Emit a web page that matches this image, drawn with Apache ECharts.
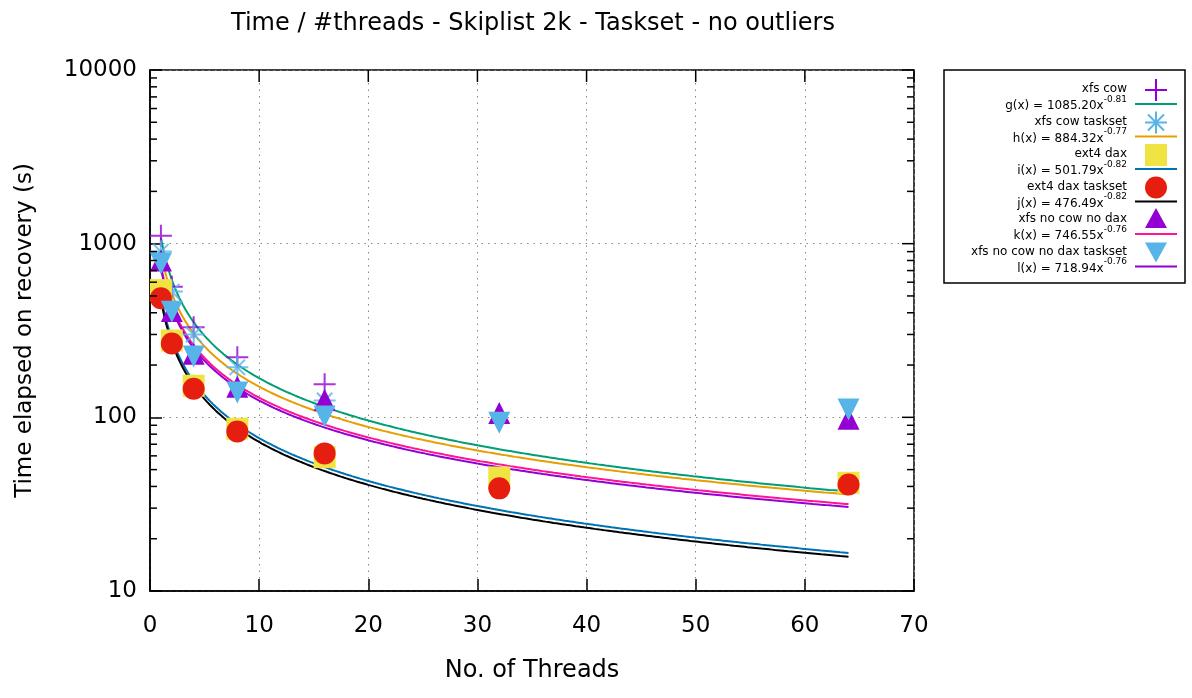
<!DOCTYPE html>
<html>
<head>
<meta charset="utf-8">
<script src="https://cdn.jsdelivr.net/npm/echarts@6/dist/echarts.min.js"></script>
<style>html,body{margin:0;padding:0;background:#fff;}#c{width:1192px;height:698px;}</style>
</head>
<body>
<div id="c"></div>
<script>
// ---- data ----
var threads = [1, 2, 4, 8, 16, 32, 64];
var xfsCow = [1110, 565, 330, 222, 155];
var xfsCowTaskset = [900, 530, 300, 194, 125];
var ext4Dax = [540, 277, 152, 86, 59, 45, 42];
var ext4DaxTaskset = [485, 266, 146, 83, 62, 39, 41];
var xfsNoCowNoDax = [800, 410, 232, 150, 126, 106, 98];
var xfsNoCowNoDaxTaskset = [770, 405, 224, 139, 101, 93, 111];
var seriesNames = ['xfs cow', 'xfs cow taskset', 'ext4 dax', 'ext4 dax taskset', 'xfs no cow no dax', 'xfs no cow no dax taskset'];
var fitLetters = ['g', 'h', 'i', 'j', 'k', 'l'];
var fitCoef = [1085.20, 884.32, 501.79, 476.49, 746.55, 718.94];
var fitExp = [-0.81, -0.77, -0.82, -0.82, -0.76, -0.76];
var fitRange = [1, 64];
var xTicks = [0, 10, 20, 30, 40, 50, 60, 70];
var yTicks = [10, 100, 1000, 10000];
var yMinor = [20,30,40,50,60,70,80,90,200,300,400,500,600,700,800,900,2000,3000,4000,5000,6000,7000,8000,9000];

// ---- styles ----
var FONT = 'DejaVu Sans';
var pointColors = ['#9400d3', '#56b4e9', '#f0e442', '#e51e10', '#9400d3', '#56b4e9'];
var lineColors = ['#009e73', '#e69f00', '#0072b2', '#000000', '#ff1493', '#9400d3'];
var PLUS = 'path://M10,0L10,20M0,10L20,10';
var STAR = 'path://M10,0L10,20M0,10L20,10M3,3L17,17M3,17L17,3';
var pointData = [xfsCow, xfsCowTaskset, ext4Dax, ext4DaxTaskset, xfsNoCowNoDax, xfsNoCowNoDaxTaskset];
var symbols = [PLUS, STAR, 'rect', 'circle', 'triangle', 'triangle'];
var symbolRot = [0, 0, 0, 0, 0, 180];
var symbolSizes = [22, 22, 22, 22, 22, 22];

function fitCurve(i) {
  var pts = [];
  for (var x = fitRange[0]; x <= fitRange[1] + 1e-9; x += 0.25) {
    pts.push([x, fitCoef[i] * Math.pow(x, fitExp[i])]);
  }
  return pts;
}

var series = [];
for (var i = 0; i < 6; i++) {
  var isStroke = (i < 2);
  series.push({
    name: seriesNames[i],
    type: 'scatter',
    symbol: symbols[i],
    symbolSize: symbolSizes[i],
    symbolRotate: symbolRot[i],
    data: pointData[i].map(function (v, k) { return [threads[k], v]; }),
    itemStyle: isStroke ? { color: 'rgba(0,0,0,0)', borderColor: pointColors[i], borderWidth: 2 } : { color: pointColors[i], opacity: 1 },
    emphasis: { disabled: true },
    silent: true,
    z: 2
  });
  series.push({
    name: fitLetters[i] + '(x)',
    type: 'line',
    showSymbol: false,
    symbol: 'none',
    data: fitCurve(i),
    lineStyle: { color: lineColors[i], width: 2 },
    emphasis: { disabled: true },
    silent: true,
    z: 2
  });
}

// minor / mirrored ticks drawn through the axes' scales
series.push({
  type: 'custom',
  silent: true,
  z: 3,
  data: yMinor.map(function (v) { return [0, v, 7]; })
    .concat(yTicks.map(function (v) { return [0, v, 12]; })),
  renderItem: function (params, api) {
    var v = api.value(1), len = api.value(2);
    var l = api.coord([0, v]);
    var r = api.coord([70, v]);
    var st = { stroke: '#000', lineWidth: 1.5 };
    var children = [
      { type: 'line', shape: { x1: r[0], y1: r[1], x2: r[0] - len, y2: r[1] }, style: st }
    ];
    if (len < 10) children.push({ type: 'line', shape: { x1: l[0], y1: l[1], x2: l[0] + len, y2: l[1] }, style: st });
    return { type: 'group', children: children };
  },
  clip: false
});
series.push({
  type: 'custom',
  silent: true,
  z: 3,
  data: xTicks.map(function (v) { return [v, 10000]; }),
  renderItem: function (params, api) {
    var p = api.coord([api.value(0), api.value(1)]);
    return { type: 'line', shape: { x1: p[0], y1: p[1], x2: p[0], y2: p[1] + 12 }, style: { stroke: '#000', lineWidth: 1.5 } };
  },
  clip: false
});

// ---- legend drawn as graphic ----
var legendX = 1127, symX = 1156, lineX1 = 1135, lineX2 = 1177;
var graphics = [{
  type: 'rect', shape: { x: 944, y: 70, width: 241, height: 213 },
  style: { fill: '#fff', stroke: '#000', lineWidth: 1.5 }, z: 10
}];
var legendTop = 89, pairGap = 32.5, subGap = 14.5;
for (var j = 0; j < 6; j++) {
  var y1 = legendTop + j * pairGap, y2 = y1 + subGap;
  graphics.push({
    type: 'text', z: 11,
    style: { text: seriesNames[j], x: legendX, y: y1, align: 'right', verticalAlign: 'middle', font: '12px "' + FONT + '"', fill: '#000' }
  });
  graphics.push({
    type: 'text', z: 11,
    style: {
      text: '{b|' + fitLetters[j] + '(x) = ' + fitCoef[j].toFixed(2) + 'x}{s|' + fitExp[j].toFixed(2) + '}',
      x: legendX, y: y2, align: 'right', verticalAlign: 'middle',
      rich: {
        b: { fontSize: 12, fontFamily: FONT, fill: '#000', lineHeight: 17, verticalAlign: 'bottom' },
        s: { fontSize: 9, fontFamily: FONT, fill: '#000', lineHeight: 17, verticalAlign: 'top' }
      }
    }
  });
  graphics.push({
    type: 'line', z: 11,
    shape: { x1: lineX1, y1: y2 + 0.5, x2: lineX2, y2: y2 + 0.5 },
    style: { stroke: lineColors[j], lineWidth: 2 }
  });
}
// legend symbols
var sy = function (j) { return legendTop + j * pairGap + 1; };
var pc = pointColors;
var seg = function (x1, y1, x2, y2, c) {
  return { type: 'line', z: 12, shape: { x1: x1, y1: y1, x2: x2, y2: y2 }, style: { stroke: c, lineWidth: 2 } };
};
graphics.push(seg(symX, sy(0) - 11, symX, sy(0) + 11, pc[0]));
graphics.push(seg(symX - 11, sy(0), symX + 11, sy(0), pc[0]));
graphics.push(seg(symX, sy(1) - 11, symX, sy(1) + 11, pc[1]));
graphics.push(seg(symX - 11, sy(1), symX + 11, sy(1), pc[1]));
graphics.push(seg(symX - 8, sy(1) - 8, symX + 8, sy(1) + 8, pc[1]));
graphics.push(seg(symX - 8, sy(1) + 8, symX + 8, sy(1) - 8, pc[1]));
graphics.push({ type: 'rect', z: 12, shape: { x: symX - 11, y: sy(2) - 11, width: 22, height: 22 }, style: { fill: pc[2] } });
graphics.push({ type: 'circle', z: 12, shape: { cx: symX, cy: sy(3), r: 11 }, style: { fill: pc[3] } });
graphics.push({ type: 'polygon', z: 12, shape: { points: [[symX, sy(4) - 12], [symX + 11, sy(4) + 8], [symX - 11, sy(4) + 8]] }, style: { fill: pc[4] } });
graphics.push({ type: 'polygon', z: 12, shape: { points: [[symX, sy(5) + 10], [symX + 11, sy(5) - 10], [symX - 11, sy(5) - 10]] }, style: { fill: pc[5] } });

var chart = echarts.init(document.getElementById('c'), null, { renderer: 'canvas' });
chart.setOption({
  animation: false,
  backgroundColor: '#fff',
  textStyle: { fontFamily: FONT },
  title: {
    text: 'Time / #threads - Skiplist 2k - Taskset - no outliers',
    left: 528, top: 7, textAlign: 'center',
    textStyle: { fontFamily: FONT, fontSize: 24, fontWeight: 'normal', color: '#000' }
  },
  grid: { left: 150, right: 278, top: 70, bottom: 107, show: true, borderColor: '#000', borderWidth: 1.5, backgroundColor: 'transparent' },
  xAxis: {
    type: 'value', min: 0, max: 70, interval: 10,
    name: 'No. of Threads', nameLocation: 'middle', nameGap: 68,
    nameTextStyle: { fontFamily: FONT, fontSize: 24, color: '#000' },
    axisLine: { show: true, lineStyle: { color: '#000', width: 1.5 } },
    axisTick: { show: true, inside: true, length: 12, lineStyle: { color: '#000', width: 1.5 } },
    axisLabel: { fontFamily: FONT, fontSize: 23, color: '#000', margin: 24 },
    splitLine: { show: true, lineStyle: { color: '#888', width: 1, type: [1.5, 5] } }
  },
  yAxis: {
    type: 'log', logBase: 10, min: 10, max: 10000,
    name: 'Time elapsed on recovery (s)', nameLocation: 'middle', nameGap: 113,
    nameTextStyle: { fontFamily: FONT, fontSize: 23, color: '#000' },
    axisLine: { show: true, lineStyle: { color: '#000', width: 1.5 } },
    axisTick: { show: true, inside: true, length: 12, lineStyle: { color: '#000', width: 1.5 } },
    axisLabel: { fontFamily: FONT, fontSize: 23, color: '#000', margin: 13, formatter: function (v) { return String(Math.round(v)); } },
    splitLine: { show: true, lineStyle: { color: '#888', width: 1, type: [1.5, 5] } }
  },
  series: series,
  graphic: graphics
});
</script>
</body>
</html>
